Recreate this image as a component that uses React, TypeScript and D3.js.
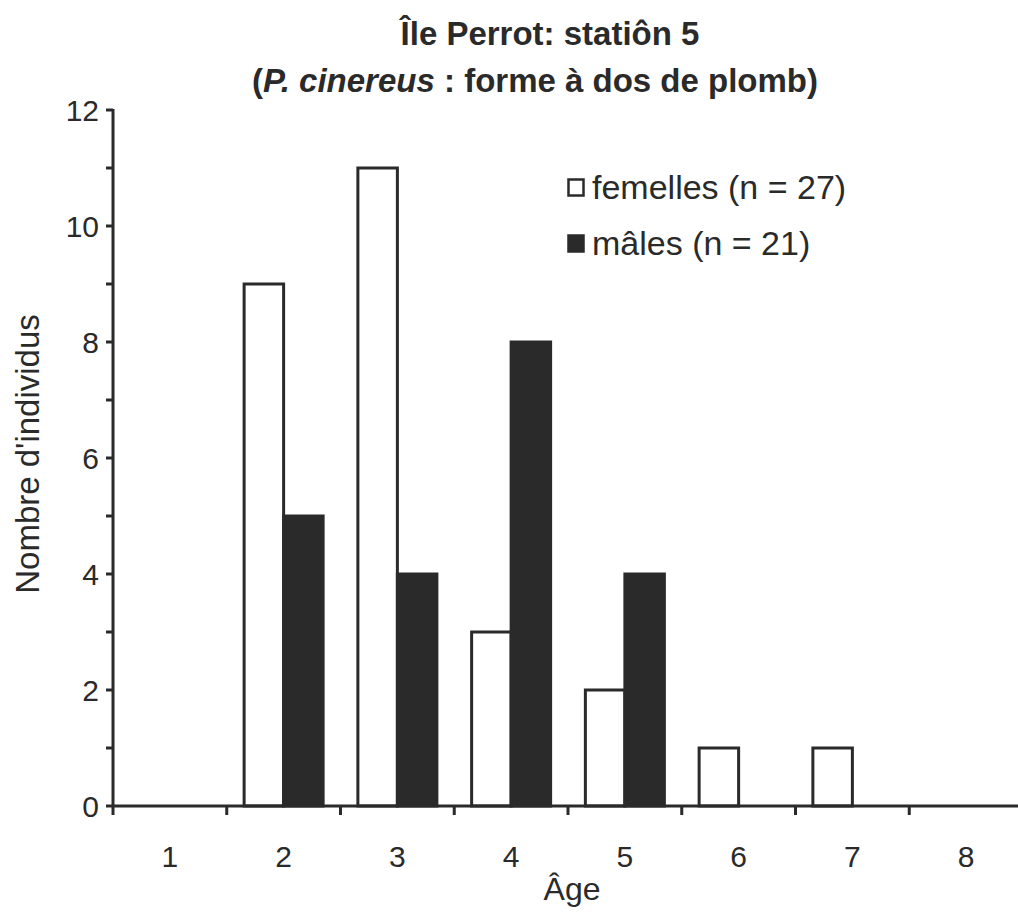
import React from "react";
import * as d3 from "d3";

const ages = ["1", "2", "3", "4", "5", "6", "7", "8"];
const femelles = [0, 9, 11, 3, 2, 1, 1, 0];
const males = [0, 5, 4, 8, 4, 0, 0, 0];
const yTicks = [0, 1, 2, 3, 4, 5, 6, 7, 8, 9, 10, 11, 12];
const legendLabels = ["femelles (n = 27)", "mâles (n = 21)"];

const W = 1018;
const H = 918;
const ink = "#2a2a2a";
const font = "Arial, 'Liberation Sans', Helvetica, sans-serif";

export default function App() {
  const x = d3.scaleBand().domain(ages).range([113, 1023]).padding(0);
  const sub = d3
    .scaleBand()
    .domain(["f", "m"])
    .range([0, x.bandwidth()])
    .paddingInner(0)
    .paddingOuter(0.44);
  const y = d3.scaleLinear().domain([0, 12]).range([806, 110]);

  const series = [
    { key: "f", values: femelles, fill: "#fff" },
    { key: "m", values: males, fill: ink },
  ];

  return (
    <svg
      width={W}
      height={H}
      style={{ position: "absolute", left: 0, top: 0, background: "#fff" }}
      fontFamily={font}
    >
      {/* title */}
      <text x={550} y={45} textAnchor="middle" fontSize={33} fontWeight="bold" fill={ink}>
        Île Perrot: statiôn 5
      </text>
      <text x={535} y={92} textAnchor="middle" fontSize={33} fontWeight="bold" fill={ink}>
        (<tspan fontStyle="italic">P. cinereus</tspan> : forme à dos de plomb)
      </text>

      {/* bars */}
      {series.map((s) =>
        s.values.map((v, i) =>
          v > 0 ? (
            <rect
              key={s.key + i}
              x={(x(ages[i]) as number) + (sub(s.key) as number)}
              y={y(v)}
              width={sub.bandwidth()}
              height={y(0) - y(v)}
              fill={s.fill}
              stroke={ink}
              strokeWidth={3}
            />
          ) : null
        )
      )}

      {/* y axis */}
      <line x1={113} x2={113} y1={y(12) - 1} y2={y(0)} stroke={ink} strokeWidth={3} />
      {yTicks.map((t) => (
        <g key={t}>
          <line x1={106} x2={113} y1={y(t)} y2={y(t)} stroke={ink} strokeWidth={3} />
          {t % 2 === 0 ? (
            <text x={99} y={y(t)} dy="0.36em" textAnchor="end" fontSize={30} fill={ink}>
              {t}
            </text>
          ) : null}
        </g>
      ))}

      {/* x axis */}
      <line x1={113} x2={1023} y1={y(0)} y2={y(0)} stroke={ink} strokeWidth={3} />
      {ages.map((a) => (
        <g key={a}>
          <line
            x1={x(a) as number}
            x2={x(a) as number}
            y1={y(0)}
            y2={y(0) + 9}
            stroke={ink}
            strokeWidth={3}
          />
          <text
            x={(x(a) as number) + x.bandwidth() / 2}
            y={867}
            textAnchor="middle"
            fontSize={30}
            fill={ink}
          >
            {a}
          </text>
        </g>
      ))}

      {/* axis titles */}
      <text x={572} y={900} textAnchor="middle" fontSize={32} fill={ink}>
        Âge
      </text>
      <text
        transform="translate(39,454) rotate(-90)"
        textAnchor="middle"
        fontSize={33}
        fill={ink}
      >
        Nombre d'individus
      </text>

      {/* legend */}
      {legendLabels.map((l, i) => (
        <g key={l} transform={`translate(567,${178 + i * 56})`}>
          <rect
            x={1.5}
            y={1.5}
            width={15}
            height={16}
            fill={i === 0 ? "#fff" : ink}
            stroke={ink}
            strokeWidth={2.5}
          />
          <text x={25} y={21} fontSize={34} fill={ink}>
            {l}
          </text>
        </g>
      ))}
    </svg>
  );
}
